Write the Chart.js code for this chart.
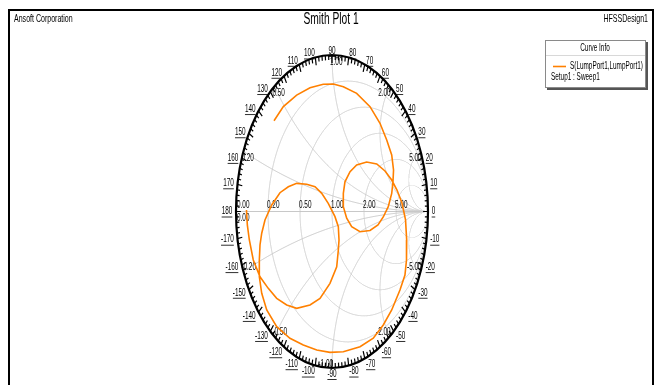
<!DOCTYPE html>
<html>
<head>
<meta charset="utf-8">
<script src="https://cdn.jsdelivr.net/npm/chart.js@4"></script>
<style>
  html, body { margin: 0; padding: 0; background: #fff; overflow: hidden; }
  #wrap { position: relative; width: 658px; height: 385px; }
</style>
</head>
<body>
<div id="wrap"><canvas id="c" width="658" height="385"></canvas></div>
<script>
// Smith chart grid values
const resistanceCircles = [0.2, 0.5, 1, 2, 5];
const reactanceArcs = [0.2, 0.5, 1, 2, 5];
const angleTicks = [0, 10, 20, 30, 40, 50, 60, 70, 80, 90, 100, 110, 120, 130, 140, 150, 160, 170, 180,
  -10, -20, -30, -40, -50, -60, -70, -80, -90, -100, -110, -120, -130, -140, -150, -160, -170];

// S(LumpPort1,LumpPort1) reflection coefficient, real and imaginary parts
const s11Re = [-0.604, -0.507, -0.368, -0.229, -0.091, 0.014, 0.118, 0.257, 0.396, 0.500,
  0.570, 0.622, 0.641, 0.635, 0.622, 0.586, 0.534, 0.479, 0.396, 0.292,
  0.205, 0.153, 0.118, 0.118, 0.135, 0.188, 0.257, 0.361, 0.466, 0.552,
  0.622, 0.677, 0.729, 0.766, 0.778, 0.776, 0.760, 0.708, 0.622, 0.534,
  0.430, 0.292, 0.118, -0.021, -0.159, -0.299, -0.438, -0.576, -0.680, -0.732,
  -0.757, -0.757, -0.750, -0.732, -0.698, -0.628, -0.542, -0.455, -0.368, -0.264,
  -0.177, -0.107, -0.039, 0.031, 0.066, 0.073, 0.066, 0.049, -0.021, -0.125,
  -0.229, -0.368, -0.472, -0.576, -0.664, -0.750, -0.820, -0.861, -0.882, -0.891];
const s11Im = [0.580, 0.670, 0.744, 0.791, 0.813, 0.815, 0.797, 0.755, 0.670, 0.564,
  0.457, 0.361, 0.265, 0.188, 0.116, 0.031, -0.035, -0.086, -0.121, -0.129,
  -0.097, -0.043, 0.031, 0.116, 0.190, 0.254, 0.297, 0.316, 0.304, 0.259,
  0.201, 0.137, 0.054, -0.054, -0.182, -0.310, -0.406, -0.502, -0.629, -0.725,
  -0.810, -0.864, -0.896, -0.900, -0.885, -0.853, -0.810, -0.736, -0.629, -0.523,
  -0.417, -0.310, -0.214, -0.139, -0.054, 0.042, 0.120, 0.158, 0.180, 0.174,
  0.158, 0.116, 0.052, -0.033, -0.097, -0.182, -0.246, -0.353, -0.459, -0.555,
  -0.597, -0.619, -0.597, -0.555, -0.491, -0.417, -0.310, -0.182, -0.086, 0.010];

const traceName = 'S(LumpPort1,LumpPort1)';
const setupName = 'Setup1 : Sweep1';
const TRACE_COLOR = '#ff8000';
const GRID_COLOR = '#c8c8c8';
const FONT = '"Liberation Sans", Arial, sans-serif';
const SQ = 0.64; // horizontal text compression

function txt(ctx, s, x, y, size, align, base, opts) {
  opts = opts || {};
  ctx.save();
  ctx.translate(x, y);
  ctx.scale(SQ, 1);
  ctx.font = size + 'px ' + FONT;
  ctx.fillStyle = opts.color || '#000';
  ctx.textAlign = align;
  ctx.textBaseline = base;
  ctx.fillText(s, 0, 0);
  if (opts.underline) {
    const w = ctx.measureText(s).width;
    const x0 = align === 'left' ? 0 : align === 'right' ? -w : -w / 2;
    let uy = base === 'middle' ? size * 0.5 : base === 'top' ? size * 0.95 : size * 0.12;
    ctx.strokeStyle = opts.color || '#000';
    ctx.lineWidth = 1;
    ctx.beginPath();
    ctx.moveTo(x0, Math.round(uy) + 0.5);
    ctx.lineTo(x0 + w, Math.round(uy) + 0.5);
    ctx.stroke();
  }
  ctx.restore();
}

const smithPlugin = {
  id: 'smith',
  beforeDatasetsDraw(chart) {
    const ctx = chart.ctx;
    const xs = chart.scales.x, ys = chart.scales.y;
    const P = (gr, gi) => [xs.getPixelForValue(gr), ys.getPixelForValue(gi)];

    ctx.save();
    ctx.strokeStyle = GRID_COLOR;
    ctx.lineWidth = 1;

    function circle(cg, ig, rg) {
      const N = 4000;
      ctx.beginPath();
      let pen = false;
      for (let k = 0; k <= N; k++) {
        const a = k / N * 2 * Math.PI;
        const gr = cg + rg * Math.cos(a), gi = ig + rg * Math.sin(a);
        if (gr * gr + gi * gi <= 1.000001) {
          const p = P(gr, gi);
          if (!pen) { ctx.moveTo(p[0], p[1]); pen = true; } else ctx.lineTo(p[0], p[1]);
        } else pen = false;
      }
      ctx.stroke();
    }

    // real axis
    let a = P(-1, 0), b = P(1, 0);
    ctx.beginPath(); ctx.moveTo(a[0], a[1]); ctx.lineTo(b[0], b[1]); ctx.stroke();

    resistanceCircles.forEach(r => circle(r / (1 + r), 0, 1 / (1 + r)));
    reactanceArcs.forEach(x => { circle(1, 1 / x, 1 / x); circle(1, -1 / x, 1 / x); });
    ctx.restore();

    // grid labels
    resistanceCircles.forEach(r => {
      const p = P((r - 1) / (r + 1), 0);
      txt(ctx, r.toFixed(2), p[0] - 1, p[1] - 1, 10, 'left', 'bottom');
    });
    const l = P(-1, 0);
    txt(ctx, '0.00', l[0] + 1, l[1] - 1, 10, 'left', 'bottom');
    txt(ctx, '0.00', l[0] + 1, l[1] + 2, 10, 'left', 'top');
    reactanceArcs.forEach(x => {
      const gr = (x * x - 1) / (x * x + 1), gi = 2 * x / (x * x + 1);
      const pp = P(gr, gi), pn = P(gr, -gi);
      const alignP = gr <= 0.01 ? 'left' : 'right';
      const alignN = gr < -0.01 ? 'left' : 'right';
      const dxP = alignP === 'left' ? -2 : 1;
      const dxN = alignN === 'left' ? -2 : 1;
      txt(ctx, x.toFixed(2), pp[0] + dxP, pp[1] + 2, 10, alignP, 'top');
      txt(ctx, '-' + x.toFixed(2), pn[0] + dxN, pn[1] + 1, 10, alignN, 'bottom');
    });
  },
  afterDatasetsDraw(chart) {
    const ctx = chart.ctx;
    const xs = chart.scales.x, ys = chart.scales.y;
    const cx = xs.getPixelForValue(0), cy = ys.getPixelForValue(0);
    const rx = xs.getPixelForValue(1) - cx, ry = cy - ys.getPixelForValue(1);
    const k = rx / ry;

    ctx.save();
    // outer rim
    ctx.strokeStyle = '#000';
    ctx.lineWidth = 2.2;
    ctx.beginPath();
    ctx.ellipse(cx, cy, rx, ry, 0, 0, 2 * Math.PI);
    ctx.stroke();
    // angle ticks, pointing inward
    ctx.lineWidth = 1.2;
    ctx.beginPath();
    for (let d = -180; d < 180; d += 2) {
      const t = d * Math.PI / 180;
      const len = d % 10 === 0 ? 8 : 5;
      const c = Math.cos(t), s = Math.sin(t);
      ctx.moveTo(cx + rx * c, cy - ry * s);
      ctx.lineTo(cx + (ry - len) * k * c, cy - (ry - len) * s);
    }
    ctx.stroke();
    ctx.restore();

    // angle labels
    angleTicks.forEach(d => {
      const t = d * Math.PI / 180;
      const c = Math.cos(t), s = Math.sin(t);
      const R = ry + 6;
      const x = cx + R * k * c, y = cy - R * s + (s > 0.3 ? 2 : 0);
      const align = c < -0.1 ? 'right' : c > 0.1 ? 'left' : 'center';
      txt(ctx, String(d), x, y, 10, align, 'middle', { underline: true });
    });

    // header, frame and legend
    ctx.save();
    ctx.strokeStyle = '#000';
    ctx.lineWidth = 2;
    ctx.beginPath();
    ctx.moveTo(9, 400); ctx.lineTo(9, 10); ctx.lineTo(653, 10); ctx.lineTo(653, 400);
    ctx.stroke();
    ctx.restore();
    txt(ctx, 'Ansoft Corporation', 14, 19, 11, 'left', 'middle');
    txt(ctx, 'Smith Plot 1', 331, 20, 16, 'center', 'middle');
    txt(ctx, 'HFSSDesign1', 648, 19, 11, 'right', 'middle');

    ctx.save();
    ctx.fillStyle = '#fff';
    ctx.fillRect(545, 40, 100, 47);
    ctx.strokeStyle = '#555';
    ctx.lineWidth = 2;
    ctx.beginPath();
    ctx.moveTo(647, 42); ctx.lineTo(647, 89); ctx.lineTo(547, 89);
    ctx.stroke();
    ctx.strokeStyle = '#8a8a8a';
    ctx.lineWidth = 1;
    ctx.strokeRect(545.5, 40.5, 100, 47);
    ctx.strokeStyle = '#d8d8d8';
    ctx.beginPath(); ctx.moveTo(546, 55.5); ctx.lineTo(645, 55.5); ctx.stroke();
    ctx.strokeStyle = TRACE_COLOR;
    ctx.lineWidth = 1.6;
    ctx.beginPath(); ctx.moveTo(553, 66.5); ctx.lineTo(566, 66.5); ctx.stroke();
    ctx.restore();
    txt(ctx, 'Curve Info', 595, 48, 10, 'center', 'middle');
    txt(ctx, traceName, 570, 66, 10, 'left', 'middle');
    txt(ctx, setupName, 551, 77, 10, 'left', 'middle');
  }
};

const points = s11Re.map((re, i) => ({ x: re, y: s11Im[i] }));

new Chart(document.getElementById('c'), {
  type: 'scatter',
  data: {
    datasets: [{
      label: traceName,
      data: points,
      showLine: true,
      borderColor: TRACE_COLOR,
      backgroundColor: TRACE_COLOR,
      borderWidth: 1.6,
      pointRadius: 0,
      tension: 0,
      clip: false
    }]
  },
  options: {
    responsive: false,
    animation: false,
    devicePixelRatio: 1,
    layout: { padding: { left: 236, right: 230, top: 55, bottom: 17 } },
    scales: {
      x: { type: 'linear', min: -1, max: 1, display: false },
      y: { type: 'linear', min: -1, max: 1, display: false }
    },
    plugins: { legend: { display: false }, title: { display: false }, tooltip: { enabled: false } }
  },
  plugins: [smithPlugin]
});
</script>
</body>
</html>
